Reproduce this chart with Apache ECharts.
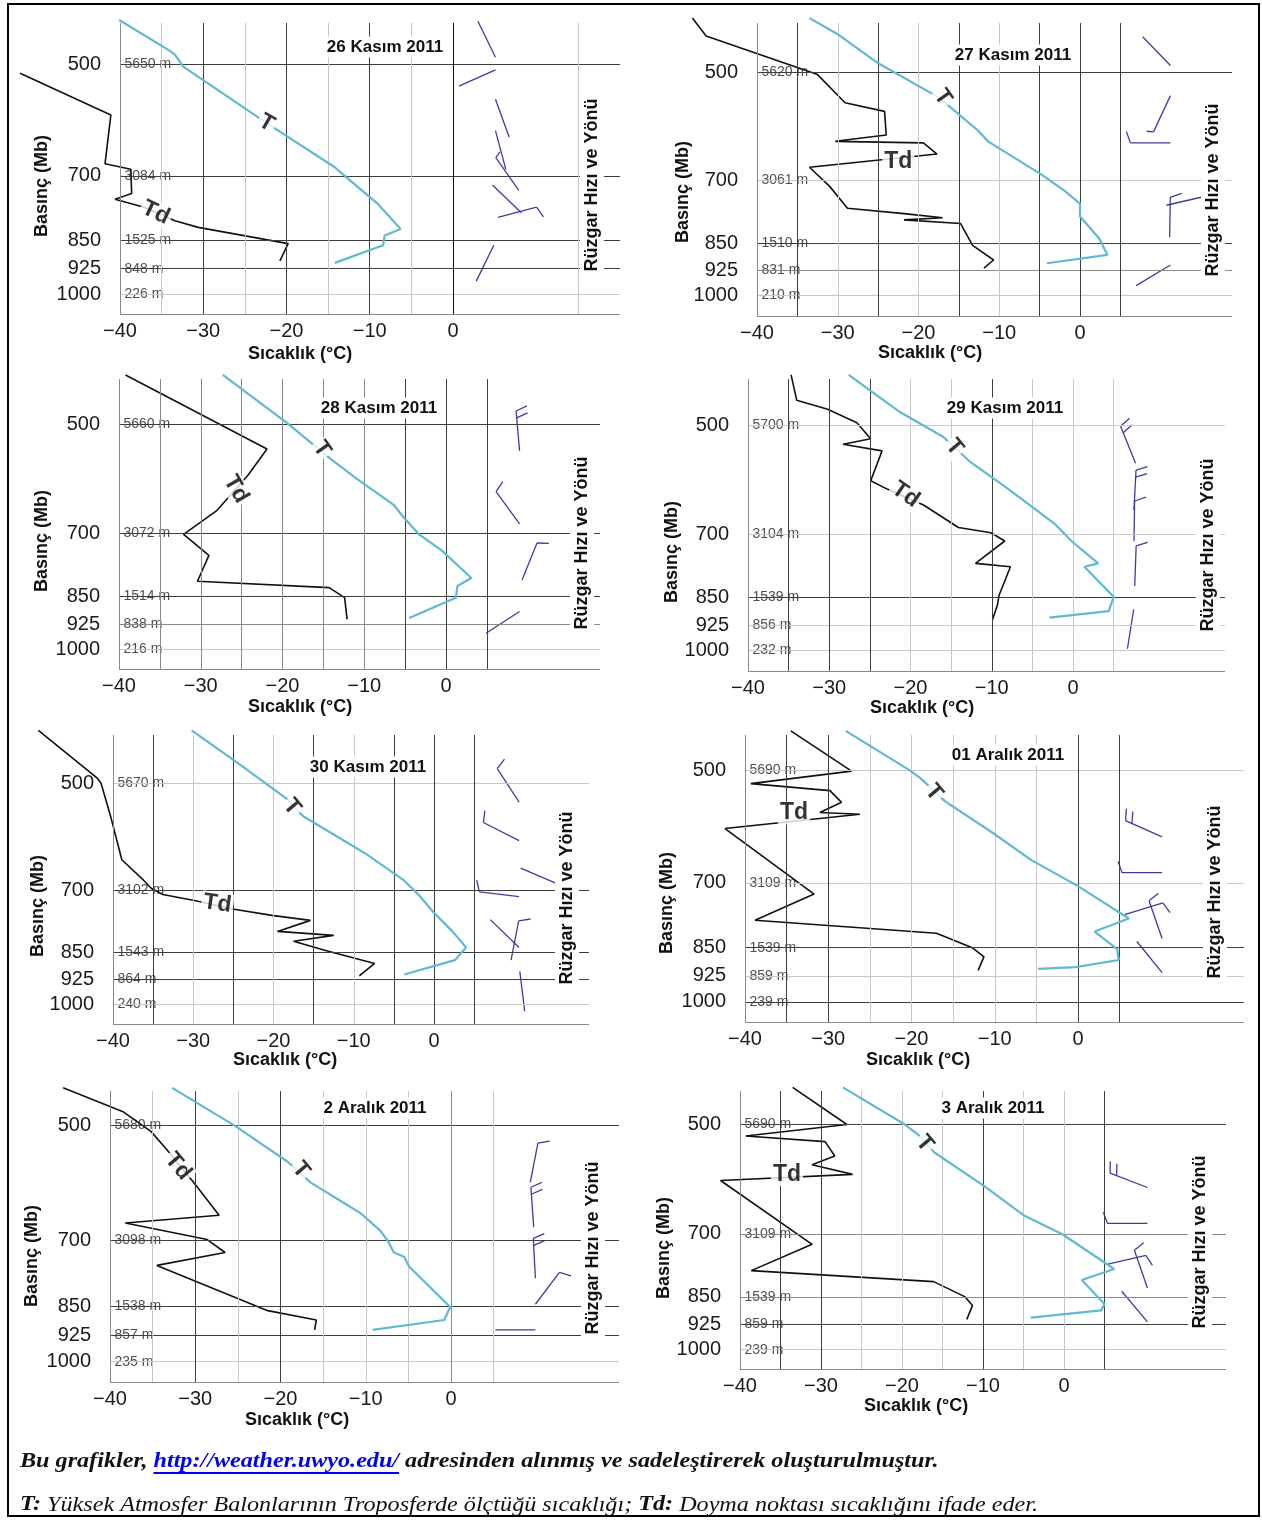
<!DOCTYPE html>
<html><head><meta charset="utf-8">
<script src="https://cdn.jsdelivr.net/npm/echarts@6/dist/echarts.min.js"></script>
<style>html,body{margin:0;padding:0;background:#fff}#c{width:1262px;height:1520px}</style>
</head><body><div id="c"></div>
<script>
const FONT = '"Liberation Sans", Arial, sans-serif';
const SERIF = '"Liberation Serif", "Times New Roman", serif';

// ---------- DATA ----------
const pressureLevels = [500, 700, 850, 925, 1000];

// 26 Kasım 2011  [temperature °C, pressure hPa]
const tempNov26 = [[-40.1,438],[-34.1,480],[-33.4,486],[-32.4,504],[-22.6,595],[-14.2,682],[-12.8,703],[-9.1,760],[-6.3,821],[-8.2,837],[-8.4,862],[-14.2,909]];
const dewNov26 = [[-52,514],[-41.1,583],[-41.8,675],[-38.7,686],[-38.6,738],[-40.6,751],[-37.1,769],[-33.4,801],[-30.6,817],[-19.8,858],[-20.8,904]];
// wind: [column °C, pressure hPa, direction deg, speed kt]
const windNov26 = [[5.1,490,334,0],[5.1,509,246,0],[5.1,556,160,0],[5.1,611,165,0],[7.9,731,325,5],[5.4,793,75,10],[8.2,782,314,0],[4.9,862,206,0]];
const heightsNov26 = ['5650 m','3084 m','1525 m','848 m','226 m'];

// 27 Kasım 2011
const tempNov27 = [[-33.5,423],[-30.1,444],[-25.2,485],[-17.5,541],[-12.6,600],[-11.4,620],[-4.8,687],[-1.9,723],[0,752],[0,783],[2.4,839],[3.4,882],[-4.1,905]];
const dewNov27 = [[-48,423],[-46.3,447],[-32.5,504],[-29.1,550],[-24.2,565],[-24,608],[-30.3,620],[-19.4,623],[-17.7,645],[-33.5,672],[-31,713],[-28.8,763],[-21.8,776],[-17,786],[-21.8,791],[-14.8,800],[-13.3,856],[-10.7,896],[-11.9,919]];
const windNov27 = [[11.2,490,316,0],[11.2,538,205,5],[11.2,623,270,10],[11.1,835,1,10],[10.7,756,77,5],[11.2,910,239,0]];
const heightsNov27 = ['5620 m','3061 m','1510 m','831 m','210 m'];

// 28 Kasım 2011
const tempNov28 = [[-27.3,430],[-19.5,498],[-14,558],[-10.9,592],[-6.4,641],[-5.2,666],[-3.3,702],[-0.5,738],[3.1,803],[1.4,823],[1.2,853],[-4.5,908]];
const dewNov28 = [[-39.2,430],[-21.9,540],[-24.2,585],[-28,652],[-32.1,702],[-29,749],[-30.4,811],[-14.3,827],[-12.4,853],[-12.1,912]];
const windNov28 = [[9,543,355,20],[9,680,324,10],[9.3,808,22,10],[9,890,237,0]];
const heightsNov28 = ['5660 m','3072 m','1514 m','838 m','216 m'];

// 29 Kasım 2011
const tempNov29 = [[-27.6,428],[-21.3,480],[-16,518],[-12.7,559],[-7.9,609],[-2.2,678],[-0.2,714],[3.1,765],[1.4,773],[5,848],[4.4,886],[-2.9,904]];
const dewNov29 = [[-34.7,428],[-34,463],[-30.2,476],[-26.6,496],[-24.9,521],[-28.3,530],[-23.5,541],[-24.9,593],[-22.8,609],[-18.4,639],[-14.1,685],[-10.1,696],[-8.4,714],[-12,765],[-7.7,773],[-9.1,844],[-9.3,869],[-9.9,909]];
const windNov29 = [[7.7,562,338,20],[7.5,649,3,20],[7.5,714,1,10],[7.6,820,2,10],[6.7,995,9,0]];
const heightsNov29 = ['5700 m','3104 m','1539 m','856 m','232 m'];

// 30 Kasım 2011
const tempNov30 = [[-30.2,424],[-24.3,471],[-18.3,526],[-16.3,555],[-8.6,623],[-3.7,679],[-1.8,712],[-0.1,749],[2.3,796],[4,837],[2.6,871],[-3.7,911]];
const dewNov30 = [[-49.3,424],[-42,492],[-41.5,500],[-40.3,555],[-38.9,636],[-36.2,678],[-35.2,696],[-33.8,709],[-29.7,723],[-25.1,742],[-20.2,757],[-15.4,769],[-19.5,796],[-12.5,806],[-17.5,821],[-13.4,846],[-7.4,880],[-9.3,915]];
const windNov30 = [[10.6,531,327,10],[10.6,599,297,10],[10.8,653,113,10],[10.6,714,277,10],[10.6,837,314,0],[9.6,871,11,10],[11.3,1022,353,0]];
const heightsNov30 = ['5670 m','3102 m','1543 m','864 m','240 m'];

// 01 Aralık 2011
const tempDec01 = [[-27.9,444],[-20.3,499],[-18.9,512],[-16,548],[-10.3,602],[-5.6,654],[0,707],[6.1,779],[2,810],[4.7,854],[4.9,882],[-0.3,901],[-4.8,906]];
const dewDec01 = [[-34.5,444],[-27.2,501],[-39.3,520],[-29.8,531],[-28.4,550],[-31,567],[-26.2,570],[-42.4,595],[-31.7,724],[-38.8,783],[-17,814],[-12.7,850],[-11.3,874],[-12,910]];
const windDec01 = [[10.1,610,294,20],[10.1,679,270,10],[5.6,770,73,10],[10.1,827,341,10],[10.1,916,321,0]];
const heightsDec01 = ['5690 m','3109 m','1539 m','859 m','239 m'];

// 2 Aralık 2011
const tempDec02 = [[-32.7,448],[-25.2,502],[-19.2,556],[-16.5,591],[-10.6,647],[-8.3,681],[-7.4,702],[-6.7,726],[-5.5,735],[-4.9,757],[-0.1,852],[-0.8,885],[-9.2,911]];
const dewDec02 = [[-45.5,448],[-38.4,481],[-35.2,509],[-33.4,536],[-30.2,591],[-27.2,651],[-38.2,666],[-28.6,699],[-26.5,726],[-34.5,754],[-21.5,861],[-15.8,885],[-16,911]];
const windDec02 = [[9.3,591,11,10],[9.7,674,356,20],[9.9,783,357,20],[9.9,845,37,10],[9.9,911,270,0]];
const heightsDec02 = ['5680 m','3098 m','1538 m','857 m','235 m'];

// 3 Aralık 2011
const tempDec03 = [[-27.3,446],[-19.9,498],[-18,516],[-16,545],[-9.8,605],[-5,661],[-0.2,701],[6.2,780],[2.2,807],[5,869],[4.6,886],[-4.1,906]];
const dewDec03 = [[-33.5,446],[-26.8,500],[-39.3,518],[-29.5,527],[-28.3,551],[-31.1,566],[-26.1,583],[-42.4,594],[-31.1,723],[-38.6,784],[-16.1,811],[-12.2,850],[-11.3,873],[-12,911]];
const windDec03 = [[10.3,607,291,20],[10.3,678,270,10],[5.3,769,77,10],[10.3,827,341,10],[10.3,918,320,0]];
const heightsDec03 = ['5690 m','3109 m','1539 m','859 m','239 m'];

// curve annotations: [temp, pressure, text, rotation]
const notesNov26 = [[-22.4,597,'T',-30],[-35.7,782,'Td',-25]];
const notesNov27 = [[-17,541,'T',-55],[-22.5,661,'Td',0]];
const notesNov28 = [[-15.2,540,'T',-55],[-25.7,611,'Td',-60]];
const notesNov29 = [[-14.6,535,'T',-50],[-20.6,619,'Td',-35]];
const notesNov30 = [[-17.7,539,'T',-50],[-27,730,'Td',-8]];
const notesDec01 = [[-17.3,534,'T',-50],[-34.1,568,'Td',0]];
const notesDec02 = [[-17.6,570,'T',-50],[-32,564,'Td',-50]];
const notesDec03 = [[-17.2,530,'T',-50],[-34.2,583,'Td',0]];

// ---------- LAYOUT ----------
const panels = [
 {title:'26 Kasım 2011', temp:tempNov26, dew:dewNov26, wind:windNov26, heights:heightsNov26, notes:notesNov26,
  lay:{x40:120,x0:453,xr:620,top:23,bottom:314,y500:64,y1000:294.6},
  titlePos:[385,47], xName:[300,354], yName:[42,186], wName:[592,185],
  hTone:['d','d','d','d','l'], vLines:[[-35,'l'],[-30,'d'],[-25,'l'],[-20,'d'],[-15,'l'],[-10,'d'],[-5,'l'],[0,'k'],[15,'l']]},
 {title:'27 Kasım 2011', temp:tempNov27, dew:dewNov27, wind:windNov27, heights:heightsNov27, notes:notesNov27,
  lay:{x40:757,x0:1080,xr:1232,top:23,bottom:316,y500:72,y1000:295.4},
  titlePos:[1013,55], xName:[930,353], yName:[683,192], wName:[1213,190],
  hTone:['d','l','d','m','l'], vLines:[[-35,'d'],[-30,'l'],[-25,'d'],[-20,'l'],[-15,'d'],[-10,'l'],[-5,'d'],[0,'d'],[5,'d']]},
 {title:'28 Kasım 2011', temp:tempNov28, dew:dewNov28, wind:windNov28, heights:heightsNov28, notes:notesNov28,
  lay:{x40:119,x0:446,xr:600,top:379,bottom:669,y500:424,y1000:649.4},
  titlePos:[379,408], xName:[300,707], yName:[42,541], wName:[582,543],
  hTone:['d','d','d','m','l'], vLines:[[-35,'m'],[-30,'m'],[-25,'m'],[-20,'m'],[-15,'m'],[-10,'m'],[-5,'d'],[0,'d'],[5,'d']]},
 {title:'29 Kasım 2011', temp:tempNov29, dew:dewNov29, wind:windNov29, heights:heightsNov29, notes:notesNov29,
  lay:{x40:748,x0:1073,xr:1225,top:379,bottom:671,y500:425.3,y1000:650.4},
  titlePos:[1005,408], xName:[922,708], yName:[672,552], wName:[1208,545],
  hTone:['l','l','d','l','l'], vLines:[[-35,'d'],[-30,'d'],[-25,'d'],[-20,'l'],[-15,'l'],[-10,'d'],[-5,'l'],[0,'l'],[5,'l']]},
 {title:'30 Kasım 2011', temp:tempNov30, dew:dewNov30, wind:windNov30, heights:heightsNov30, notes:notesNov30,
  lay:{x40:113,x0:434,xr:589,top:735,bottom:1024,y500:783,y1000:1004.2},
  titlePos:[368,767], xName:[285,1060], yName:[38,906], wName:[567,898],
  hTone:['l','d','d','d','l'], vLines:[[-35,'d'],[-30,'l'],[-25,'d'],[-20,'l'],[-15,'d'],[-10,'l'],[-5,'d'],[0,'d'],[5,'d']]},
 {title:'01 Aralık 2011', temp:tempDec01, dew:dewDec01, wind:windDec01, heights:heightsDec01, notes:notesDec01,
  lay:{x40:745,x0:1078,xr:1244,top:735,bottom:1022,y500:770.5,y1000:1001.9},
  titlePos:[1008,755], xName:[918,1060], yName:[667,903], wName:[1215,892],
  hTone:['l','l','d','l','d'], vLines:[[-35,'d'],[-30,'d'],[-25,'l'],[-20,'l'],[-15,'l'],[-10,'l'],[-5,'l'],[0,'d'],[5,'d']]},
 {title:'2 Aralık 2011', temp:tempDec02, dew:dewDec02, wind:windDec02, heights:heightsDec02, notes:notesDec02,
  lay:{x40:110,x0:451,xr:619,top:1091,bottom:1382,y500:1125.3,y1000:1361.7},
  titlePos:[375,1108], xName:[297,1420], yName:[32,1256], wName:[593,1248],
  hTone:['d','d','d','d','l'], vLines:[[-35,'l'],[-30,'d'],[-25,'l'],[-20,'d'],[-15,'l'],[-10,'l'],[-5,'l'],[0,'m'],[5,'l']]},
 {title:'3 Aralık 2011', temp:tempDec03, dew:dewDec03, wind:windDec03, heights:heightsDec03, notes:notesDec03,
  lay:{x40:740,x0:1064,xr:1226,top:1091,bottom:1369,y500:1124.5,y1000:1349.7},
  titlePos:[993,1108], xName:[916,1406], yName:[664,1248], wName:[1200,1242],
  hTone:['d','m','m','d','l'], vLines:[[-35,'d'],[-30,'d'],[-25,'l'],[-20,'l'],[-15,'l'],[-10,'d'],[-5,'l'],[0,'l'],[5,'d']]}
];

const TONE = {k:'#111111', d:'#3e3e3e', m:'#8a8a8a', l:'#c8c8c8'};
const AXIS_GRAY = '#8a8a8a';
const WIND_COLOR = '#3d3d9e';
const X_EXT_MIN = -60;   // axis extends left of the -40 frame so that curves leaving the frame stay visible

function barb(params, api) {
  const base = api.coord([api.value(0), api.value(1)]);
  const th = api.value(2) * Math.PI / 180;
  const spd = api.value(3);
  const L = 40;
  const ux = Math.sin(th), uy = -Math.cos(th);
  const tip = [base[0] + ux * L, base[1] + uy * L];
  const px = -uy, py = ux;
  const st = {stroke: WIND_COLOR, lineWidth: 1.3, fill: null};
  const ch = [{type:'line', shape:{x1:base[0], y1:base[1], x2:tip[0], y2:tip[1]}, style:st}];
  let full = Math.floor(spd / 10), half = (spd % 10) >= 5, pos = 0;
  for (let k = 0; k < full; k++) {
    const sx = tip[0] - ux * pos, sy = tip[1] - uy * pos, fl = 12;
    ch.push({type:'line', shape:{x1:sx, y1:sy, x2:sx + (px * 0.94 + ux * 0.34) * fl, y2:sy + (py * 0.94 + uy * 0.34) * fl}, style:st});
    pos += 7;
  }
  if (half) {
    const sx = tip[0] - ux * pos, sy = tip[1] - uy * pos, fl = 7;
    ch.push({type:'line', shape:{x1:sx, y1:sy, x2:sx + (px * 0.94 + ux * 0.34) * fl, y2:sy + (py * 0.94 + uy * 0.34) * fl}, style:st});
  }
  return {type:'group', children:ch};
}

const grid = [], xAxis = [], yAxis = [], series = [], graphic = [];

panels.forEach((P, i) => {
  const L = P.lay;
  const k = (L.y1000 - L.y500) / Math.log(2);
  const pMin = 500 * Math.exp(-(L.y500 - L.top) / k);
  const pMax = 1000 * Math.exp((L.bottom - L.y1000) / k);
  const ppc = (L.x0 - L.x40) / 40;
  const tMax = (L.xr - L.x0) / ppc;
  const gLeft = L.x40 - (-40 - X_EXT_MIN) * ppc;
  grid.push({left:gLeft, top:L.top, width:L.xr - gLeft, height:L.bottom - L.top,
    containLabel:false, outerBoundsMode:'none'});
  xAxis.push({gridIndex:i, type:'value', min:X_EXT_MIN, max:tMax, interval:10,
    axisLine:{show:false}, axisTick:{show:false}, splitLine:{show:false},
    axisLabel:{show:true, margin:7, fontSize:20, fontFamily:FONT, color:'#1a1a1a', showMaxLabel:false, showMinLabel:false,
      formatter:v => (v > 0.001 || v < -40.5) ? '' : (v < 0 ? '\u2212' + (-v) : '0')}});
  yAxis.push({gridIndex:i, type:'log', inverse:true, min:pMin, max:pMax,
    axisLine:{show:false}, axisTick:{show:false}, axisLabel:{show:false}, splitLine:{show:false}, minorSplitLine:{show:false}});

  const ml = [];
  pressureLevels.forEach((p, j) => ml.push([
    {coord:[-40, p], lineStyle:{color:TONE[P.hTone[j]], width:1, type:'solid'},
     label:{show:true, position:'start', distance:19, formatter:String(p), fontSize:20, fontFamily:FONT, color:'#1a1a1a'}},
    {coord:[tMax, p]}]));
  P.vLines.forEach(([v, t]) => ml.push({xAxis:v, lineStyle:{color:TONE[t], width:1, type:'solid'}, label:{show:false}}));
  ml.push({xAxis:-40, lineStyle:{color:AXIS_GRAY, width:1, type:'solid'}, label:{show:false}});
  ml.push([{coord:[-40, pMax], lineStyle:{color:AXIS_GRAY, width:1, type:'solid'}, label:{show:false}}, {coord:[tMax, pMax]}]);

  const ax = {xAxisIndex:i, yAxisIndex:i};
  series.push(Object.assign({type:'line', data:[], z:1, silent:true,
    markLine:{silent:true, symbol:['none','none'], animation:false, data:ml}}, ax));
  series.push(Object.assign({type:'scatter', z:0, silent:true, symbolSize:1, itemStyle:{color:'rgba(0,0,0,0)'},
    data: pressureLevels.map((p, j) => [-40, p, P.heights[j]]),
    label:{show:true, position:'right', distance:4, formatter:d => d.value[2], fontSize:14, fontFamily:FONT, color:'#222'}}, ax));
  series.push(Object.assign({type:'line', data:P.dew, symbol:'none', clip:false, silent:true,
    lineStyle:{color:'#111', width:1.6}, z:4}, ax));
  series.push(Object.assign({type:'line', data:P.temp, symbol:'none', clip:false, silent:true,
    lineStyle:{color:'#5fbad0', width:2.2}, z:5}, ax));
  series.push(Object.assign({type:'custom', data:P.wind, renderItem:barb, z:3, silent:true, clip:false,
    encode:{x:0, y:1}}, ax));
  series.push(Object.assign({type:'scatter', z:8, silent:true, symbolSize:1, itemStyle:{color:'rgba(0,0,0,0)'},
    data:P.notes.map(n => ({value:[n[0], n[1]], label:{formatter:n[2], rotate:n[3]}})),
    label:{show:true, position:'inside', fontSize:23, fontWeight:'bold', fontFamily:FONT, color:'#000',
      backgroundColor:'#fff', padding:[0,2]}}, ax));

  const txt = (x, y, text, font, opts) => ({type:'text', x, y, z:20, silent:true,
    style:Object.assign({text, font, fill:'#111', align:'center', verticalAlign:'middle',
      textAlign:'center', textVerticalAlign:'middle'}, opts || {})});
  graphic.push(txt(P.titlePos[0], P.titlePos[1], P.title, 'bold 17px ' + FONT, {backgroundColor:'#fff', padding:[2,4]}));
  graphic.push(txt(P.xName[0], P.xName[1], 'Sıcaklık (°C)', 'bold 18px ' + FONT));
  const yn = txt(P.yName[0], P.yName[1], 'Basınç (Mb)', 'bold 18px ' + FONT); yn.rotation = Math.PI / 2; graphic.push(yn);
  const wn = txt(P.wName[0], P.wName[1], 'Rüzgar Hızı ve Yönü', 'bold 18px ' + FONT, {backgroundColor:'#fff', padding:[3,6]});
  wn.rotation = Math.PI / 2; graphic.push(wn);
});

// outer frame
graphic.push({type:'rect', z:30, silent:true, shape:{x:8, y:4, width:1251, height:1512}, style:{fill:null, stroke:'#000', lineWidth:2}});

// footnotes
const FS = 21, SX = 1.15;
const ctx = document.createElement('canvas').getContext('2d');
ctx.font = `italic bold ${FS}px "Liberation Serif"`;
const w1 = ctx.measureText('Bu grafikler, ').width * SX;
const w2 = ctx.measureText('http://weather.uwyo.edu/').width * SX;
const rb = {fontFamily:SERIF, fontSize:FS, fontStyle:'italic', fontWeight:'bold', fill:'#111', color:'#111'};
const ri = {fontFamily:SERIF, fontSize:FS, fontStyle:'italic', fontWeight:'normal', fill:'#111', color:'#111'};
const rl = Object.assign({}, rb, {fill:'#0000ee', color:'#0000ee'});
graphic.push({type:'text', x:20, y:1462, scaleX:SX, z:20, silent:true, style:{
  text:'{b|Bu grafikler, }{l|http://weather.uwyo.edu/}{b| adresinden alınmış ve sadeleştirerek oluşturulmuştur.}',
  align:'left', verticalAlign:'middle', textAlign:'left', textVerticalAlign:'middle', rich:{b:rb, l:rl}}});
graphic.push({type:'line', z:20, silent:true, shape:{x1:20 + w1, y1:1473, x2:20 + w1 + w2, y2:1473}, style:{stroke:'#0000ee', lineWidth:2}});
graphic.push({type:'text', x:20, y:1505, scaleX:SX, z:20, silent:true, style:{
  text:'{b|T:}{i| Yüksek Atmosfer Balonlarının Troposferde ölçtüğü sıcaklığı; }{b|Td:}{i| Doyma noktası sıcaklığını ifade eder.}',
  align:'left', verticalAlign:'middle', textAlign:'left', textVerticalAlign:'middle', rich:{b:rb, i:ri}}});

const chart = echarts.init(document.getElementById('c'), null, {renderer:'canvas', width:1262, height:1520});
chart.setOption({backgroundColor:'#fff', animation:false, grid, xAxis, yAxis, series, graphic});
</script></body></html>
